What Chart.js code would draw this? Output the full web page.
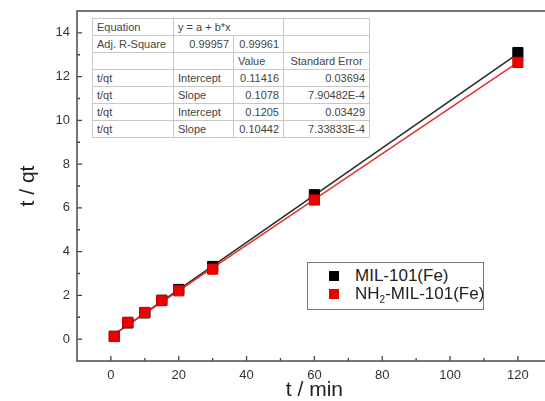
<!DOCTYPE html>
<html>
<head>
<meta charset="utf-8">
<script src="https://cdn.jsdelivr.net/npm/chart.js@4.4.0/dist/chart.umd.min.js"></script>
<style>
  html, body { margin: 0; padding: 0; background: #fff; overflow: hidden; }
  #wrap { position: relative; width: 560px; height: 401px; }
  #fitTable {
    position: absolute; left: 92px; top: 18px; width: 277px;
    border-collapse: collapse; table-layout: fixed; background: #fff;
    font: 11px Arial, "Liberation Sans", sans-serif; color: #444;
  }
  #fitTable td {
    border: 1px solid #c8c8c8; height: 16px; line-height: 16px;
    padding: 0 4px; white-space: nowrap; overflow: hidden;
  }
  #fitTable td.num { text-align: right; }
  #fitTable td.mid { text-align: center; }
  #legendBox {
    position: absolute; left: 307px; top: 262px; width: 177px; height: 48px;
    box-sizing: border-box; border: 1.5px solid #777; background: #fff;
    font: 17px Arial, "Liberation Sans", sans-serif; color: #222;
  }
  #legendBox .row { position: absolute; left: 0; height: 18px; line-height: 18px; }
  #legendBox .sw { position: absolute; left: 21px; top: 4px; width: 10px; height: 10px; }
  #legendBox .txt { position: absolute; left: 47px; top: 0; white-space: nowrap; }
  #legendBox sub { font-size: 10px; vertical-align: -4px; line-height: 0; }
</style>
</head>
<body>
<div id="wrap">
  <canvas id="kinetics" width="560" height="401"></canvas>
  <table id="fitTable">
    <colgroup><col style="width:81px"><col style="width:60px"><col style="width:50px"><col style="width:86px"></colgroup>
    <tbody id="fitBody"></tbody>
  </table>
  <div id="legendBox"></div>
</div>
<script>
// sampling times (min) and t/qt for each adsorbent
const times = [1, 5, 10, 15, 20, 30, 60, 120];
const milFe = [0.13, 0.74, 1.2, 1.78, 2.27, 3.32, 6.6, 13.1];
const nh2MilFe = [0.12, 0.77, 1.22, 1.76, 2.21, 3.2, 6.36, 12.65];

const seriesNames = ['MIL-101(Fe)', 'NH₂-MIL-101(Fe)'];
const seriesColors = ['#000000', '#ee0000'];
const lineColors = ['#2a2a2a', '#e23030'];

// linear fit results, y = a + b*x
const adjR2 = ['0.99957', '0.99961'];
const intercepts = [0.11416, 0.1205];
const slopes = [0.1078, 0.10442];
const interceptErr = ['0.03694', '0.03429'];
const slopeErr = ['7.90482E-4', '7.33833E-4'];

// axis ticks
const xTicks = [0, 20, 40, 60, 80, 100, 120];
const xMinor = [10, 30, 50, 70, 90, 110];
const yTicks = [0, 2, 4, 6, 8, 10, 12, 14];
const yMinor = [1, 3, 5, 7, 9, 11, 13];

const points = ys => times.map((t, i) => ({ x: t, y: ys[i] }));
const fitLine = k => [times[0], times[times.length - 1]].map(t => ({ x: t, y: intercepts[k] + slopes[k] * t }));

// box frame with inward major/minor ticks
const frameTicks = {
  id: 'frameTicks',
  afterDraw(chart) {
    const { ctx, chartArea: a, scales: { x, y } } = chart;
    ctx.save();
    ctx.strokeStyle = '#444';
    ctx.lineWidth = 1.3;
    ctx.beginPath();
    xTicks.forEach(v => { const p = x.getPixelForValue(v); ctx.moveTo(p, a.bottom); ctx.lineTo(p, a.bottom - 5); });
    xMinor.forEach(v => { const p = x.getPixelForValue(v); ctx.moveTo(p, a.bottom); ctx.lineTo(p, a.bottom - 3); });
    yTicks.forEach(v => { const p = y.getPixelForValue(v); ctx.moveTo(a.left, p); ctx.lineTo(a.left + 5, p); });
    yMinor.forEach(v => { const p = y.getPixelForValue(v); ctx.moveTo(a.left, p); ctx.lineTo(a.left + 3, p); });
    ctx.stroke();
    ctx.strokeStyle = '#555';
    ctx.lineWidth = 1.6;
    ctx.strokeRect(a.left, a.top, a.right - a.left, a.bottom - a.top);
    ctx.restore();
  }
};

const tickFont = { family: 'Arial, "Liberation Sans", sans-serif', size: 13 };
const titleFont = { family: 'Arial, "Liberation Sans", sans-serif', size: 21 };

new Chart(document.getElementById('kinetics'), {
  type: 'scatter',
  data: {
    datasets: [
      { label: seriesNames[0] + ' fit', data: fitLine(0), showLine: true, borderColor: lineColors[0], borderWidth: 1.5, pointRadius: 0, order: 4 },
      { label: seriesNames[1] + ' fit', data: fitLine(1), showLine: true, borderColor: lineColors[1], borderWidth: 1.5, pointRadius: 0, order: 3 },
      { label: seriesNames[0], data: points(milFe), pointStyle: 'rect', pointRadius: 7.2,
        backgroundColor: seriesColors[0], borderColor: seriesColors[0], borderWidth: 1, order: 2 },
      { label: seriesNames[1], data: points(nh2MilFe), pointStyle: 'rect', pointRadius: 7.2,
        backgroundColor: seriesColors[1], borderColor: '#d80000', borderWidth: 1, order: 1 }
    ]
  },
  options: {
    responsive: false,
    animation: false,
    devicePixelRatio: 1,
    layout: { padding: { top: 11, right: 7, left: 0, bottom: 0 } },
    plugins: { legend: { display: false }, tooltip: { enabled: false } },
    scales: {
      x: {
        type: 'linear', min: -10, max: 130,
        grid: { display: false, drawTicks: false },
        border: { display: false },
        afterBuildTicks: s => { s.ticks = xTicks.map(v => ({ value: v })); },
        afterFit: s => { s.height = 40; s.paddingLeft = 0; s.paddingRight = 0; },
        ticks: { font: tickFont, color: '#333', padding: 7 },
        title: { display: true, text: 't / min', font: titleFont, color: '#222', padding: { top: 0, bottom: -2 } }
      },
      y: {
        type: 'linear', min: -1, max: 15,
        grid: { display: false, drawTicks: false },
        border: { display: false },
        afterBuildTicks: s => { s.ticks = yTicks.map(v => ({ value: v })); },
        afterFit: s => { s.width = 77; s.paddingTop = 0; s.paddingBottom = 0; },
        ticks: { font: tickFont, color: '#333', padding: 7 },
        title: { display: true, text: 't / qt', font: titleFont, color: '#222', padding: { top: 16, bottom: 0 } }
      }
    }
  },
  plugins: [frameTicks]
});

// fit parameter table
const rows = [
  ['<td>Equation</td><td colspan="2">y = a + b*x</td><td></td>'],
  [`<td>Adj. R-Square</td><td class="num">${adjR2[0]}</td><td class="num">${adjR2[1]}</td><td></td>`],
  ['<td></td><td></td><td>Value</td><td class="mid">Standard Error</td>']
];
[0, 1].forEach(k => {
  rows.push([`<td>t/qt</td><td>Intercept</td><td class="num">${intercepts[k]}</td><td class="num">${interceptErr[k]}</td>`]);
  rows.push([`<td>t/qt</td><td>Slope</td><td class="num">${slopes[k]}</td><td class="num">${slopeErr[k]}</td>`]);
});
document.getElementById('fitBody').innerHTML = rows.map(r => `<tr>${r}</tr>`).join('');

// legend for the two data series
document.getElementById('legendBox').innerHTML = seriesNames.map((name, i) => `
  <div class="row" style="top:${4 + i * 18}px; width:100%">
    <span class="sw" style="background:${seriesColors[i]}"></span>
    <span class="txt">${name.replace('₂', '<sub>2</sub>')}</span>
  </div>`).join('');
</script>
</body>
</html>
